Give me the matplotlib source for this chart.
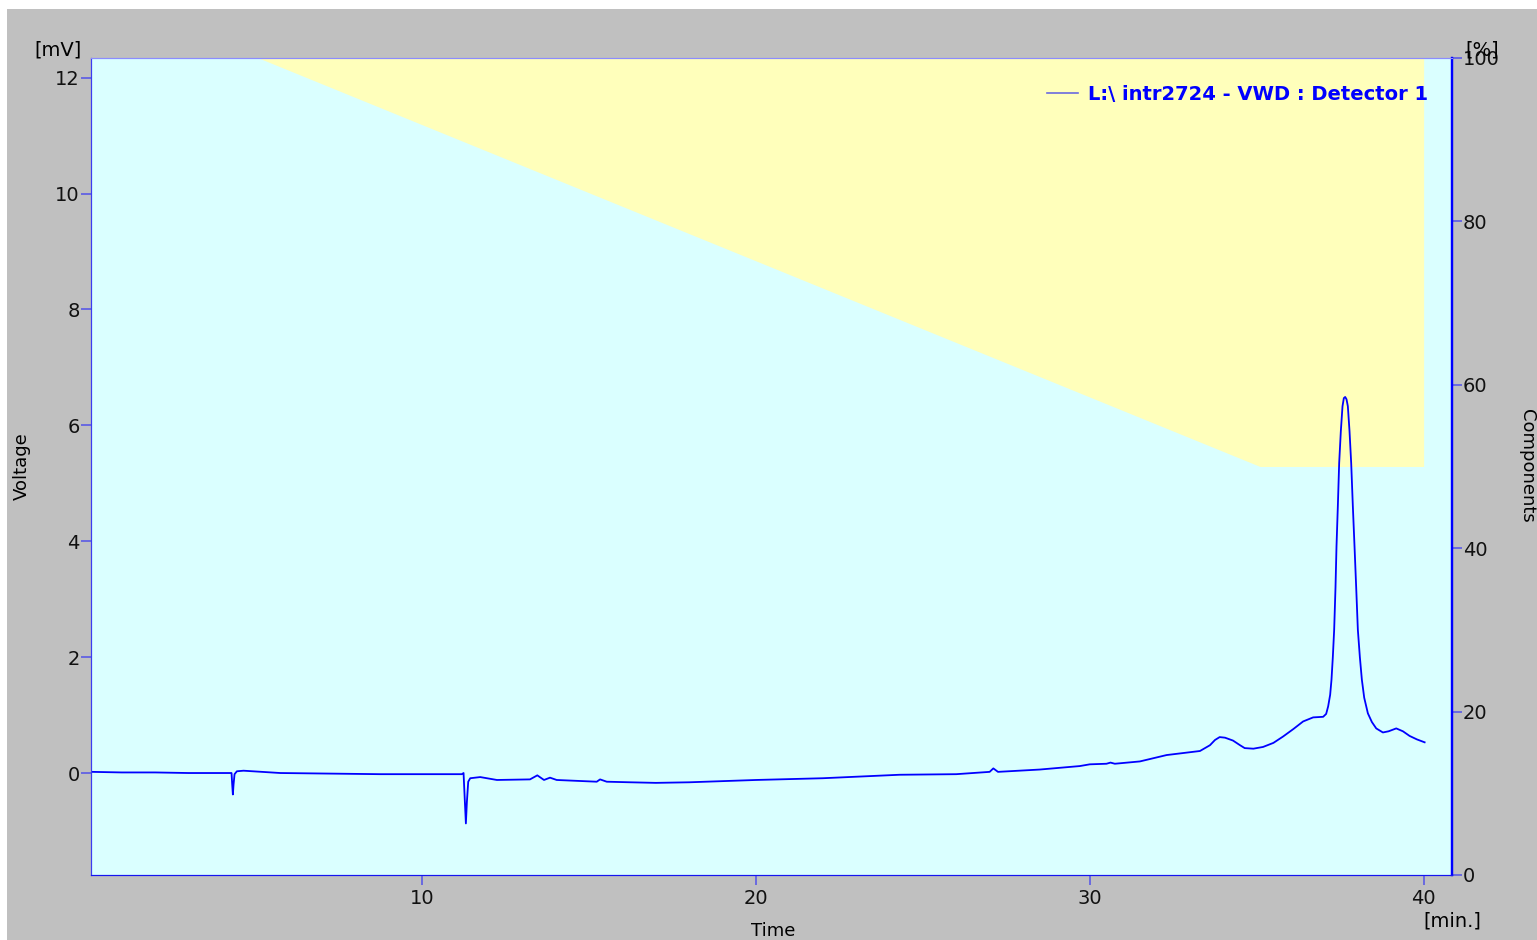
import matplotlib
matplotlib.use("Agg")
import matplotlib.pyplot as plt
from matplotlib.lines import Line2D
from matplotlib.patches import Rectangle

W, H = 1537, 940

# detector trace [min], [mV]
t_min = [0.1, 1.0, 2.0, 3.0, 4.0, 4.29, 4.31, 4.33, 4.35, 4.38, 4.45, 4.65,
         5.75, 8.74, 11.19, 11.24, 11.28, 11.31, 11.34, 11.38, 11.44, 11.74,
         12.24, 13.23, 13.45, 13.65, 13.83, 14.03, 15.23, 15.33, 15.53, 16.23,
         17.0, 18.0, 20.0, 22.0, 24.3, 26.0, 27.0, 27.11, 27.25, 28.5, 29.7,
         30.0, 30.5, 30.62, 30.75, 31.5, 32.3, 33.3, 33.6, 33.75, 33.89, 34.05,
         34.29, 34.5, 34.64, 34.9, 35.19, 35.5, 35.79, 36.1, 36.39, 36.69, 36.99,
         37.08, 37.14, 37.20, 37.24, 37.28, 37.32, 37.36, 37.39, 37.43, 37.47,
         37.52, 37.57, 37.61, 37.65, 37.69, 37.73, 37.78, 37.83, 37.88, 37.93,
         37.98, 38.03, 38.09, 38.15, 38.22, 38.33, 38.45, 38.58, 38.78, 38.95,
         39.18, 39.38, 39.58, 39.8, 40.03]
signal_mv = [0.02, 0.01, 0.01, 0.0, 0.0, 0.0, -0.2, -0.37, -0.2, -0.02, 0.03, 0.04,
             0.0, -0.02, -0.02, 0.0, -0.5, -0.87, -0.5, -0.15, -0.09, -0.07,
             -0.12, -0.11, -0.04, -0.12, -0.08, -0.12, -0.15, -0.11, -0.15, -0.16,
             -0.17, -0.16, -0.12, -0.09, -0.03, -0.02, 0.02, 0.08, 0.02, 0.06, 0.12,
             0.15, 0.16, 0.18, 0.16, 0.20, 0.31, 0.38, 0.48, 0.57, 0.62, 0.61,
             0.56, 0.48, 0.43, 0.42, 0.45, 0.52, 0.63, 0.76, 0.89, 0.96, 0.97,
             1.02, 1.15, 1.35, 1.61, 2.0, 2.47, 3.2, 3.91, 4.6, 5.35,
             5.9, 6.33, 6.47, 6.49, 6.45, 6.33, 5.9, 5.35, 4.6, 3.91,
             3.2, 2.47, 2.0, 1.61, 1.3, 1.03, 0.88, 0.77, 0.70, 0.72,
             0.77, 0.72, 0.64, 0.58, 0.53]

# solvent programme [min], [%]
grad_t = [0.0, 5.1, 35.1, 40.0]
grad_pct = [100, 100, 50, 50]

x_ticks = [10, 20, 30, 40]
mv_ticks = [0, 2, 4, 6, 8, 10, 12]
pct_ticks = [0, 20, 40, 60, 80, 100]
trace_name = "L:\\ intr2724 - VWD : Detector 1"

CYAN = "#daffff"
YELLOW = "#ffffbb"
GRAY = "#c0c0c0"
BLUE = "#0000ff"
TICKC = "#5a5ae6"


def px(x, y):
    return x / W, 1 - y / H


fig = plt.figure(figsize=(W / 100, H / 100), dpi=100, facecolor="white")
fig.patches.append(Rectangle((7 / W, 0), 1, 1 - 9 / H, transform=fig.transFigure,
                             facecolor=GRAY, edgecolor="none", zorder=-10))

l, r, t, b = 91, 1452, 58, 875
ax = fig.add_axes([l / W, 1 - b / H, (r - l) / W, (b - t) / H])
ax2 = ax.twinx()
ax.set_zorder(ax2.get_zorder() + 1)
ax.patch.set_visible(False)
ax2.patch.set_visible(True)
ax2.patch.set_facecolor(CYAN)

ax2.fill_between(grad_t, grad_pct, 100, color=YELLOW, linewidth=0)
ax2.set_ylim(0, 100)
ax2.set_yticks(pct_ticks)

ax.plot(t_min, signal_mv, color=BLUE, linewidth=1.3, solid_joinstyle="round")
ax.set_xlim(0.08, 40.85)
ax.set_ylim(-1.76, 12.34)
ax.set_xticks(x_ticks)
ax.set_yticks(mv_ticks)

for a in (ax, ax2):
    a.tick_params(direction="out", length=7, width=1.2, color=TICKC,
                  labelsize=14, labelcolor="#111111")
    a.spines["left"].set_color("#3c3cf0")
    a.spines["bottom"].set_color("#1515f0")
    a.spines["top"].set_color("#8c8cff")
    a.spines["right"].set_color(BLUE)
    a.spines["right"].set_linewidth(1.6)
ax.tick_params(axis="y", pad=1)
ax.tick_params(axis="x", pad=3)
ax2.tick_params(axis="y", pad=1)

handle = Line2D([], [], color="#6a6ae0", linewidth=1.2)
leg = ax.legend([handle], [trace_name], loc="upper right", frameon=False,
                bbox_to_anchor=(1 - 16 / (r - l), 1 - 19 / (b - t)),
                borderaxespad=0, handlelength=1.6, handletextpad=0.5,
                prop={"weight": "bold", "size": 14})
for txt in leg.get_texts():
    txt.set_color(BLUE)

fig.text(*px(58, 50), "[mV]", fontsize=14, ha="center", va="center")
fig.text(*px(1482, 50), "[%]", fontsize=14, ha="center", va="center")
fig.text(*px(1452, 921), "[min.]", fontsize=14, ha="center", va="center")
fig.text(*px(22, 466), "Voltage", fontsize=13, rotation=90, ha="center", va="center")
fig.text(*px(1527, 466), "Components", fontsize=13, rotation=270, ha="center", va="center")
fig.text(*px(773, 931), "Time", fontsize=13, ha="center", va="center")

fig.savefig("out.png", dpi=100, facecolor=fig.get_facecolor())
